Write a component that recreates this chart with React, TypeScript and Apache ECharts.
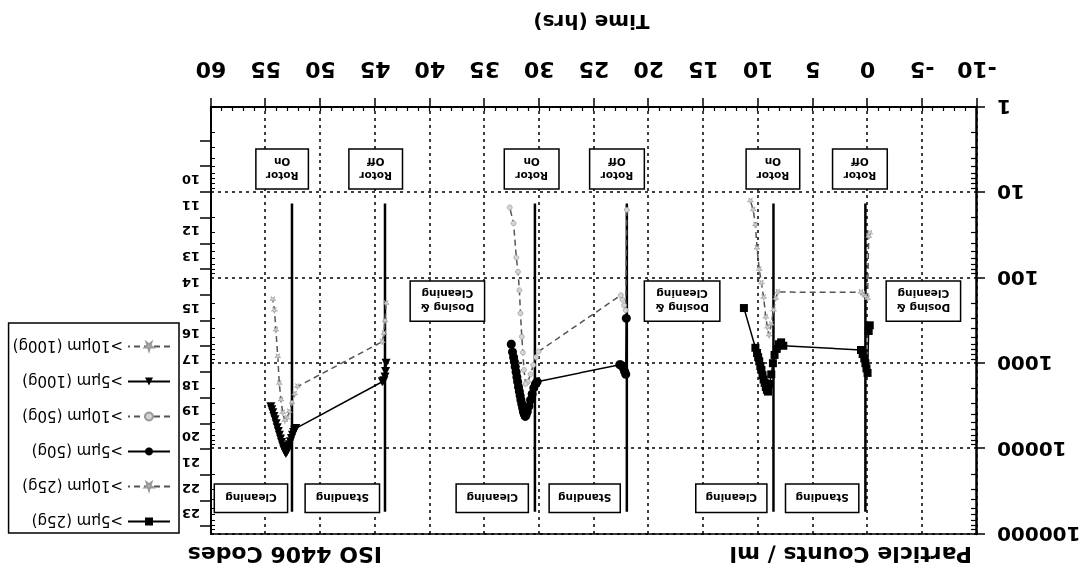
import React, { useEffect, useRef } from "react";
import * as echarts from "echarts";

const W = 1089;
const H = 573;

// Axes
const timeMin = -10;
const timeMax = 60;
const timeStep = 5;
const countMin = 1;
const countMax = 100000;
const isoCodes = [10, 11, 12, 13, 14, 15, 16, 17, 18, 19, 20, 21, 22, 23];

// Series: [time (hrs), particle counts / ml]
const gt5_25g = [
  [-0.2, 360], [-0.1, 420], [0.0, 1300], [0.1, 1150], [0.2, 1000], [0.3, 880], [0.45, 780], [0.6, 700],
  [7.7, 625], [7.9, 570], [8.1, 600], [8.3, 680], [8.5, 800], [8.65, 1000], [8.8, 1350], [8.95, 1750],
  [9.1, 2150], [9.2, 2050], [9.3, 1900], [9.4, 1700], [9.5, 1550], [9.6, 1380], [9.7, 1200], [9.8, 1080],
  [9.9, 950], [10.0, 850], [10.1, 760], [10.25, 660], [11.3, 226],
];
const gt10_25g = [
  [-0.2, 30], [-0.1, 33], [0.0, 175], [0.2, 165], [0.4, 155], [0.6, 148],
  [8.2, 147], [8.4, 175], [8.6, 240], [8.8, 350], [9.0, 470], [9.15, 380], [9.3, 290], [9.5, 170],
  [9.7, 115], [9.9, 80], [10.1, 45], [10.25, 24], [10.45, 16], [10.7, 12.6],
];
const gt5_50g = [
  [22.05, 298], [22.1, 1350], [22.2, 1250], [22.3, 1150], [22.4, 1090], [22.55, 1050], [22.65, 1040],
  [30.2, 1650], [30.35, 1750], [30.5, 1950], [30.65, 2300], [30.8, 2700], [30.95, 3200], [31.1, 3700],
  [31.2, 4000], [31.28, 4200], [31.37, 3950], [31.45, 3700], [31.52, 3350], [31.6, 3000], [31.68, 2700],
  [31.75, 2400], [31.82, 2150], [31.9, 1900], [31.98, 1650], [32.05, 1450], [32.12, 1270], [32.2, 1100],
  [32.28, 960], [32.35, 850], [32.45, 740], [32.56, 600],
];
const gt10_50g = [
  [22.0, 16], [22.1, 240], [22.25, 210], [22.4, 180], [22.55, 160],
  [30.07, 730], [30.3, 850], [30.55, 1050], [30.8, 1350], [31.05, 1650], [31.25, 1750], [31.4, 1200],
  [31.5, 750], [31.6, 490], [31.72, 260], [31.82, 140], [31.95, 85], [32.1, 58], [32.35, 23], [32.7, 15],
];
const gt5_100g = [
  [44.0, 1000], [44.05, 1250], [44.1, 1450], [44.2, 1600], [44.35, 1650],
  [52.25, 5800], [52.35, 6100], [52.45, 6500], [52.55, 7000], [52.65, 7600], [52.75, 8300], [52.85, 9000],
  [52.92, 9700], [53.0, 10500], [53.08, 11000], [53.16, 11400], [53.25, 10900], [53.35, 10200],
  [53.45, 9300], [53.55, 8500], [53.65, 7700], [53.75, 7000], [53.85, 6300], [53.95, 5700], [54.05, 5100],
  [54.15, 4600], [54.25, 4200], [54.35, 3800], [54.45, 3500], [54.53, 3230],
];
const gt10_100g = [
  [44.0, 200], [44.1, 320], [44.2, 450], [44.35, 560],
  [52.1, 1880], [52.35, 2300], [52.6, 2900], [52.85, 3700], [53.05, 4400], [53.25, 4700], [53.45, 3800],
  [53.6, 2700], [53.76, 1730], [53.9, 840], [54.07, 410], [54.2, 240], [54.35, 180],
];

const seriesNames = [
  ">5µm (25g)", ">10µm (25g)", ">5µm (50g)", ">10µm (50g)", ">5µm (100g)", ">10µm (100g)",
];

// Rotor off / on event lines: time, and count range they span
const eventTimes = [0.2, 8.6, 22.0, 30.4, 44.1, 52.6];
const eventRange = [13.5, 55000];

// Annotation boxes: [t start, t end, count low, count high]
const boxLabels = [
  "Rotor\nOff", "Rotor\nOff", "Rotor\nOff",
  "Rotor\nOn", "Rotor\nOn", "Rotor\nOn",
  "Standing", "Standing", "Standing",
  "Cleaning", "Cleaning", "Cleaning",
  "Dosing &\nCleaning", "Dosing &\nCleaning", "Dosing &\nCleaning",
];
const boxRanges = [
  [-1.8, 3.2, 3.1, 9.1], [20.4, 25.4, 3.1, 9.1], [42.5, 47.4, 3.1, 9.1],
  [6.2, 11.1, 3.1, 9.1], [28.2, 33.2, 3.1, 9.1], [51.1, 55.9, 3.1, 9.1],
  [0.8, 7.5, 26000, 56000], [22.6, 29.1, 26000, 56000], [44.6, 51.4, 26000, 56000],
  [9.2, 15.7, 26000, 56000], [31.0, 37.6, 26000, 56000], [53.0, 59.7, 26000, 56000],
  [-8.5, -1.7, 109, 322], [13.5, 20.4, 109, 322], [35.0, 41.8, 109, 322],
];

const FONT = "DejaVu Sans";
const STAR = "path://M50,0 L61,35 L98,35 L68,57 L79,91 L50,70 L21,91 L32,57 L2,35 L39,35 Z";
const LOG2 = Math.log10(2);

function buildOption() {
  const minorLog: number[] = [];
  for (let d = 0; d < 5; d++) for (let k = 2; k <= 9; k++) minorLog.push(d + Math.log10(k));
  const hourTicks: number[] = [];
  for (let t = timeMin; t <= timeMax; t++) hourTicks.push(t);
  const isoBounds: number[] = [];
  for (let n = 8; n <= isoCodes[isoCodes.length - 1]; n++) isoBounds.push(1 + (n - 10) * LOG2);
  const isoCenters = isoCodes.map((n) => 1 + (n - 10.5) * LOG2);

  const dotted = { type: [3, 4], color: "#000", width: 1.5 };

  const mk = (name: string, data: number[][], solid: boolean, symbol: string, size: number, fill: string) => ({
    name,
    type: "line",
    data,
    symbol,
    symbolSize: size,
    showSymbol: true,
    lineStyle: { color: solid ? "#000" : "#555", width: 1.5, type: solid ? "solid" : [6, 4] },
    itemStyle: { color: fill, borderColor: solid ? "#000" : "#999", borderWidth: solid ? 0 : 0.7 },
    z: solid ? 5 : 4,
    emphasis: { disabled: true },
  });

  return {
    animation: false,
    backgroundColor: "#fff",
    grid: { left: 112, right: 211, top: 39, bottom: 107 },
    legend: {
      data: seriesNames,
      orient: "vertical",
      left: 910,
      top: 40,
      itemWidth: 42,
      itemHeight: 10,
      itemGap: 20,
      padding: [4, 4, 16, 8],
      borderColor: "#000",
      borderWidth: 1.5,
      backgroundColor: "#fff",
      textStyle: { fontFamily: FONT, fontSize: 15, color: "#000" },
    },
    xAxis: [
      {
        type: "value", min: timeMin, max: timeMax, interval: timeStep, position: "bottom",
        axisLine: { show: true, onZero: false, lineStyle: { color: "#000", width: 2 } },
        axisTick: { show: true, inside: false, length: 9, lineStyle: { color: "#000", width: 1.5 } },
        axisLabel: { fontFamily: FONT, fontWeight: "bold", fontSize: 22, color: "#000", margin: 26 },
        splitLine: { show: true, lineStyle: dotted },
      },
      {
        type: "value", min: timeMin, max: timeMax, position: "bottom",
        axisLine: { show: false, onZero: false },
        axisTick: { show: true, inside: true, length: 4, customValues: hourTicks, lineStyle: { color: "#000", width: 1.2 } },
        axisLabel: { show: false },
        splitLine: { show: false },
      },
      {
        type: "value", min: timeMin, max: timeMax, position: "top",
        axisLine: { show: true, onZero: false, lineStyle: { color: "#000", width: 1.5 } },
        axisTick: { show: false },
        axisLabel: { show: false },
        splitLine: { show: false },
      },
    ],
    yAxis: [
      {
        type: "log", logBase: 10, min: countMin, max: countMax, position: "left", splitNumber: 5,
        axisLine: { show: true, onZero: false, lineStyle: { color: "#000", width: 2.5 } },
        axisTick: { show: true, inside: false, length: 8, lineStyle: { color: "#000", width: 1.5 } },
        axisLabel: {
          fontFamily: FONT, fontWeight: "bold", fontSize: 20, color: "#000", margin: 20,
          formatter: (v: number) => String(Math.round(v)),
        },
        splitLine: { show: true, lineStyle: dotted },
      },
      {
        type: "value", min: 0, max: 5, position: "left",
        axisLine: { show: false, onZero: false },
        axisTick: { show: true, inside: true, length: 6, customValues: minorLog, lineStyle: { color: "#000", width: 1.2 } },
        axisLabel: { show: false },
        splitLine: { show: false },
      },
      {
        type: "value", min: 0, max: 5, position: "right",
        axisLine: { show: true, onZero: false, lineStyle: { color: "#000", width: 2 } },
        axisTick: { show: true, inside: false, length: 11, customValues: isoBounds, lineStyle: { color: "#000", width: 1.5 } },
        axisLabel: {
          show: true, customValues: isoCenters, fontFamily: FONT, fontWeight: "bold", fontSize: 13, color: "#000", margin: 11,
          formatter: (v: number) => String(Math.round((v - 1) / LOG2 + 10.5)),
        },
        splitLine: { show: false },
      },
      {
        type: "value", min: 0, max: 5, position: "right",
        axisLine: { show: false, onZero: false },
        axisTick: { show: true, inside: true, length: 4, customValues: minorLog, lineStyle: { color: "#000", width: 1 } },
        axisLabel: { show: false },
        splitLine: { show: false },
      },
    ],
    graphic: [
      {
        type: "text", x: 117, y: 18.5,
        style: { text: "Particle Counts / ml", font: `bold 22px "${FONT}"`, fill: "#000", align: "left", verticalAlign: "middle" },
      },
      {
        type: "text", x: 707, y: 18.5,
        style: { text: "ISO 4406 Codes", font: `bold 22px "${FONT}"`, fill: "#000", align: "left", verticalAlign: "middle" },
      },
      {
        type: "text", x: 497.5, y: 551,
        style: { text: "Time (hrs)", font: `bold 20px "${FONT}"`, fill: "#000", align: "center", verticalAlign: "middle" },
      },
    ],
    series: [
      {
        name: "events",
        type: "custom",
        xAxisIndex: 0,
        yAxisIndex: 0,
        z: 2,
        silent: true,
        data: eventTimes.map((t) => [t, eventRange[0], eventRange[1]]),
        encode: { x: 0, y: [1, 2] },
        renderItem: (params: any, api: any) => {
          const p1 = api.coord([api.value(0), api.value(1)]);
          const p2 = api.coord([api.value(0), api.value(2)]);
          return {
            type: "line",
            shape: { x1: p1[0], y1: p1[1], x2: p2[0], y2: p2[1] },
            style: { stroke: "#000", lineWidth: 2.5 },
          };
        },
      },
      {
        name: "boxes",
        type: "custom",
        xAxisIndex: 0,
        yAxisIndex: 0,
        z: 3,
        silent: true,
        data: boxRanges,
        encode: { x: [0, 1], y: [2, 3] },
        renderItem: (params: any, api: any) => {
          const p1 = api.coord([api.value(0), api.value(2)]);
          const p2 = api.coord([api.value(1), api.value(3)]);
          const x = Math.min(p1[0], p2[0]);
          const y = Math.min(p1[1], p2[1]);
          const w = Math.abs(p2[0] - p1[0]);
          const h = Math.abs(p2[1] - p1[1]);
          return {
            type: "group",
            children: [
              { type: "rect", shape: { x, y, width: w, height: h }, style: { fill: "#fff", stroke: "#000", lineWidth: 1.5 } },
              {
                type: "text", x: x + w / 2, y: y + h / 2,
                style: {
                  text: boxLabels[params.dataIndex], fill: "#000", font: `bold 10.5px "${FONT}"`,
                  align: "center", verticalAlign: "middle", lineHeight: 14,
                },
              },
            ],
          };
        },
      },
      mk(seriesNames[0], gt5_25g, true, "rect", 8, "#000"),
      mk(seriesNames[1], gt10_25g, false, STAR, 6, "#d4d4d4"),
      mk(seriesNames[2], gt5_50g, true, "circle", 9, "#000"),
      mk(seriesNames[3], gt10_50g, false, "circle", 5, "#d4d4d4"),
      mk(seriesNames[4], gt5_100g, true, "triangle", 9, "#000"),
      mk(seriesNames[5], gt10_100g, false, STAR, 6, "#d4d4d4"),
    ],
  };
}

export default function App() {
  const ref = useRef<HTMLDivElement>(null);
  useEffect(() => {
    if (!ref.current) return;
    const chart = echarts.init(ref.current, null, { renderer: "svg" });
    chart.setOption(buildOption() as any);
    return () => chart.dispose();
  }, []);
  return (
    <div
      style={{
        position: "fixed", left: 0, top: 0, width: W, height: H, background: "#fff",
        transform: "rotate(180deg)", transformOrigin: "50% 50%",
      }}
    >
      <div ref={ref} style={{ width: W, height: H }} />
    </div>
  );
}
